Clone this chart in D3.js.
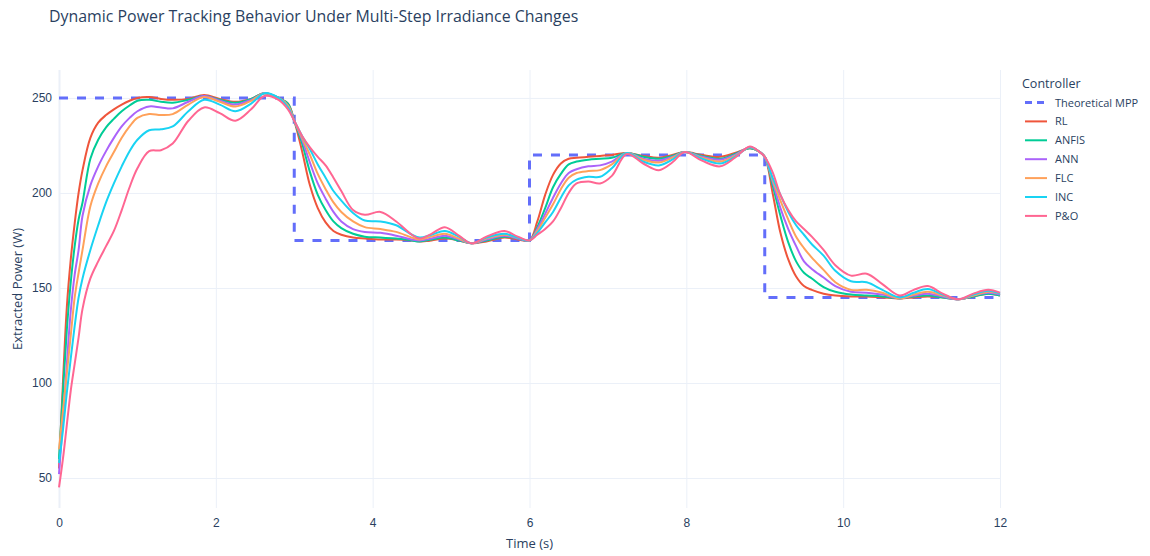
<!DOCTYPE html>
<html>
<head>
<meta charset="utf-8">
<script src="https://cdn.jsdelivr.net/npm/d3@7"></script>
<style>
  html, body { margin: 0; padding: 0; background: #fff; }
  svg { display: block; font-family: "Open Sans", "Noto Sans", sans-serif; }
</style>
</head>
<body>
<svg id="chart" width="1150" height="556"></svg>
<script>
// ---------------- data ----------------
const time = [
  0, 0.05, 0.1, 0.15, 0.2, 0.25, 0.3, 0.4, 0.5, 0.6, 0.7, 0.8, 0.9, 1.0, 1.15, 1.3, 1.45, 1.65, 1.85, 2.05, 2.25, 2.45, 2.62, 2.8, 2.92,
  3.0, 3.1, 3.2, 3.3, 3.4, 3.5, 3.6, 3.75, 3.9, 4.1, 4.3, 4.5, 4.6, 4.75, 4.92, 5.1, 5.26, 5.45, 5.68, 5.85, 6.0,
  6.1, 6.2, 6.3, 6.4, 6.5, 6.6, 6.75, 6.9, 7.05, 7.24, 7.45, 7.65, 7.82, 7.98, 8.2, 8.43, 8.62, 8.81, 8.92,
  9.0, 9.1, 9.2, 9.3, 9.4, 9.5, 9.6, 9.75, 9.9, 10.1, 10.3, 10.5, 10.72, 10.9, 11.08, 11.27, 11.47, 11.66, 11.85, 12.0
];
const rl = [
  55, 100, 140, 165, 184, 200, 212, 229, 237, 241, 244, 246.5, 248.5, 250, 250.5, 249.5, 249, 249.5, 251.5, 249.5, 248, 249.5, 252.5, 250, 247,
  238, 222, 204, 192, 184.5, 180, 178, 176.5, 176, 175.5, 175.5, 175, 174.5, 175, 176, 175, 173.5, 174.5, 176.5, 175.5, 175,
  185, 199, 209.5, 215.5, 218, 218.5, 219, 219.5, 220, 221, 219.5, 218.5, 220, 221.5, 220, 219, 221, 223.5, 222,
  219, 200, 179, 165, 156, 151, 149, 147, 146, 145.5, 145.5, 145, 144.5, 145, 145.5, 145, 144, 145.5, 147, 146
];
const anfis = [
  60, 95, 128, 153, 172, 186, 195, 218, 228, 234.5, 239, 243, 246, 248.5, 249, 248, 247.5, 249, 251, 249, 247.5, 249.5, 252.5, 250, 247,
  238, 226, 211, 199, 191, 185, 181.5, 178.5, 177, 176.5, 176, 175, 174.5, 175.5, 176.5, 175, 173.5, 175, 177, 176, 175,
  182, 192, 203, 210, 215, 216.5, 217.5, 218, 218.5, 221, 219, 218, 219.5, 221.5, 219.5, 218, 220.5, 223.5, 222,
  219, 204, 188, 174, 164, 158, 155, 150.5, 148, 146.5, 146, 145.5, 144.5, 145.5, 146, 145, 144, 145.5, 147, 146
];
const ann = [
  52, 80, 110, 138, 157, 170, 188, 204, 214, 222, 229, 235, 239.5, 243, 245.5, 245, 244.5, 248, 251, 248.5, 246.5, 249, 252.5, 250, 246,
  238, 228, 216, 205, 197, 190, 185, 181, 179.5, 179, 177.5, 175.5, 175, 176, 177.5, 175.5, 173.5, 175.5, 177.5, 176, 175,
  181, 189, 197.5, 205, 210.5, 212.5, 214, 214.5, 216.5, 221, 218, 217, 219, 221.5, 219, 217.5, 220, 224, 222,
  219, 206, 192, 181, 172, 164, 160, 155.5, 151, 148, 147.5, 146.5, 144.5, 146, 147, 145.5, 144, 146, 147.5, 146.5
];
const flc = [
  65, 85, 105, 125, 145, 158, 170, 193, 205, 214, 221.5, 229, 235, 239.5, 241.5, 241, 241.5, 246.5, 250.5, 248, 245.5, 248.5, 252.5, 250, 246,
  238, 229, 220, 210, 202, 195, 190, 185, 182, 181, 179.5, 176.5, 175.5, 177, 178.5, 176, 173.5, 176, 178, 176.5, 175,
  180, 187, 194, 202, 208, 210.5, 211.5, 212, 215, 221, 217.5, 216, 218.5, 221.5, 218.5, 216.5, 219.5, 224, 222,
  219, 207, 196, 186, 177, 171, 166, 159.5, 153, 149, 149, 147.5, 144.5, 146.5, 148, 146, 144, 146, 148, 147
];
const inc = [
  58, 75, 95, 113, 130, 145, 155, 170, 183, 195, 205, 214, 222, 228, 233, 233.5, 235, 243, 249, 246.5, 243, 247, 252.5, 250, 245,
  238, 230, 223, 215, 208, 201, 196, 189.5, 185.5, 185, 183, 178, 176.5, 178, 180, 177, 173.5, 176.5, 178.5, 176.5, 175,
  179, 184.5, 190, 197.5, 204, 207, 208.5, 208.5, 213, 221, 216.5, 214.5, 217.5, 221.5, 218, 215.5, 219, 224, 222,
  219, 208, 199, 190, 183, 178, 173, 167, 159, 153.5, 153, 149, 145, 147.5, 149.5, 146.5, 144, 146.5, 148.5, 147
];
const po = [
  45, 60, 78, 96, 110, 124, 139, 155, 164, 172, 180, 191, 203, 213, 222, 222.5, 226, 238, 245, 242, 238, 244, 251, 249, 244,
  238, 230, 224, 219, 214.5, 208, 201, 191, 188.5, 190, 185, 178, 176, 178.5, 182, 177.5, 173.5, 177, 180, 177, 175,
  178, 181, 185, 192, 200, 205, 206, 205, 209, 220.5, 215.5, 212, 216, 221.5, 217, 214, 218.5, 224.5, 222,
  219, 211, 199, 191, 185, 181, 177, 170, 162, 156.5, 157.5, 152, 146, 149, 151, 147, 144, 147, 149, 147.5
];
const mppTime = [0, 3, 3, 6, 6, 9, 9, 12];
const mppPower = [250, 250, 175, 175, 220, 220, 145, 145];

const seriesNames = ["RL", "ANFIS", "ANN", "FLC", "INC", "P&O"];
const seriesValues = [rl, anfis, ann, flc, inc, po];
const seriesColors = ["#EF553B", "#00CC96", "#AB63FA", "#FFA15A", "#19D3F3", "#FF6692"];
const mppName = "Theoretical MPP";
const mppColor = "#636EFA";

const xTicks = [0, 2, 4, 6, 8, 10, 12];
const yTicks = [50, 100, 150, 200, 250];
const xDomain = [0, 12];
const yDomain = [34.2, 264.7];

const titleText = "Dynamic Power Tracking Behavior Under Multi-Step Irradiance Changes";
const xTitle = "Time (s)";
const yTitle = "Extracted Power (W)";
const legendTitle = "Controller";

// ---------------- layout ----------------
const svg = d3.select("#chart");
const plot = { left: 59, right: 1000, top: 70, bottom: 508 };
const textColor = "#2a3f5f";
const gridColor = "#EBF0F8";

const x = d3.scaleLinear().domain(xDomain).range([plot.left, plot.right]);
const y = d3.scaleLinear().domain(yDomain).range([plot.bottom, plot.top]);

// grid
const gx = svg.append("g")
  .attr("transform", `translate(0,${plot.bottom})`)
  .call(d3.axisBottom(x).tickValues(xTicks).tickSize(-(plot.bottom - plot.top)).tickPadding(10).tickFormat(d3.format("d")));
gx.select(".domain").remove();
gx.selectAll(".tick line").attr("stroke", gridColor).attr("stroke-width", 1);
gx.selectAll(".tick text").attr("fill", textColor).attr("font-size", 12);

const gy = svg.append("g")
  .attr("transform", `translate(${plot.left},0)`)
  .call(d3.axisLeft(y).tickValues(yTicks).tickSize(-(plot.right - plot.left)).tickPadding(7).tickFormat(d3.format("d")));
gy.select(".domain").remove();
gy.selectAll(".tick line").attr("stroke", gridColor).attr("stroke-width", 1);
gy.selectAll(".tick text").attr("fill", textColor).attr("font-size", 12);

// zero line at x=0
gx.selectAll(".tick").filter(d => d === 0).select("line").attr("stroke-width", 2);

// lines
const line = d3.line().x(d => x(d[0])).y(d => y(d[1])).curve(d3.curveCatmullRom.alpha(0.5));

svg.append("path")
  .datum(d3.zip(mppTime, mppPower))
  .attr("d", d3.line().x(d => x(d[0])).y(d => y(d[1])))
  .attr("fill", "none")
  .attr("stroke", mppColor)
  .attr("stroke-width", 3)
  .attr("stroke-dasharray", "9,9");

seriesValues.forEach((vals, i) => {
  svg.append("path")
    .datum(d3.zip(time, vals))
    .attr("d", line)
    .attr("fill", "none")
    .attr("stroke", seriesColors[i])
    .attr("stroke-width", 2)
    .attr("stroke-linejoin", "round");
});

// title
svg.append("text")
  .attr("x", 49).attr("y", 22)
  .attr("fill", textColor)
  .attr("font-size", 15.9)
  .text(titleText);

// axis titles
svg.append("text")
  .attr("x", (plot.left + plot.right) / 2).attr("y", 548)
  .attr("text-anchor", "middle")
  .attr("fill", textColor)
  .attr("font-size", 13)
  .text(xTitle);

svg.append("text")
  .attr("transform", `translate(22,${(plot.top + plot.bottom) / 2}) rotate(-90)`)
  .attr("text-anchor", "middle")
  .attr("fill", textColor)
  .attr("font-size", 13)
  .text(yTitle);

// legend
const legend = svg.append("g").attr("transform", "translate(1022,0)");
legend.append("text")
  .attr("x", 0).attr("y", 88)
  .attr("fill", textColor)
  .attr("font-size", 12.5)
  .text(legendTitle);

const legendItems = [{ name: mppName, color: mppColor, dash: true }]
  .concat(seriesNames.map((n, i) => ({ name: n, color: seriesColors[i], dash: false })));

legendItems.forEach((it, i) => {
  const cy = 102.5 + i * 18.9;
  legend.append("line")
    .attr("x1", 3).attr("x2", 25)
    .attr("y1", cy).attr("y2", cy)
    .attr("stroke", it.color)
    .attr("stroke-width", it.dash ? 3 : 2)
    .attr("stroke-dasharray", it.dash ? "7,5" : null);
  legend.append("text")
    .attr("x", 33).attr("y", cy + 4)
    .attr("fill", textColor)
    .attr("font-size", 11)
    .text(it.name);
});
</script>
</body>
</html>
